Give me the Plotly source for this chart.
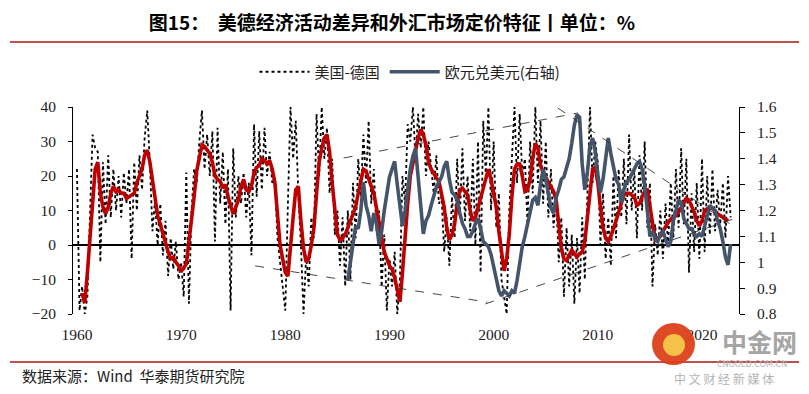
import pandas as pd
import plotly.graph_objects as go

# ---------------- data (quarterly, 1960Q1 .. 2022Q4) ----------------
start_date = "1960-01-01"
n_quarters = 252

us_minus_de = [  # dotted series, left axis
    22, -19, -12, -20,   # 1960
    -15, 10, 32, 28,     # 1961
    27, -5, 24, 6,       # 1962
    26, 8, 22, 10,       # 1963
    20, 8, 21, 12,       # 1964
    22, -4, 24, 10,      # 1965
    26, 16, 31, 39,      # 1966
    24, 4, 13, 0,        # 1967
    12, -3, 7, -9,       # 1968
    2, -7, 1, -10,       # 1969
    -5, -15, 21, -17,    # 1970
    10, 22, 18, 30,      # 1971
    39, 22, 32, 20,      # 1972
    33, 1, 34, 12,       # 1973
    27, 6, 22, -19,      # 1974
    28, 8, 20, 12,       # 1975
    21, 8, 18, -3,       # 1976
    35, 14, 33, 16,      # 1977
    34, 20, 27, 18,      # 1978
    20, 2, -5, -11,      # 1979
    -19, 12, 40, 25,     # 1980
    36, 15, 0, -20,      # 1981
    -3, -12, 8, 2,       # 1982
    38, 20, 40, 25,      # 1983
    34, 15, 25, 3,       # 1984
    10, -6, 8, -12,      # 1985
    10, -10, 18, 2,      # 1986
    25, 14, 32, 18,      # 1987
    36, 12, 22, 4,       # 1988
    10, -12, 3, -19,     # 1989
    -4, -12, -2, -20,    # 1990
    -10, 20, 12, 35,     # 1991
    30, 40, 25, 38,      # 1992
    28, 40, 20, 30,      # 1993
    22, 15, 26, 12,      # 1994
    14, -2, 8, -6,       # 1995
    14, 2, 25, 8,        # 1996
    28, 7, 20, 4,        # 1997
    25, 0, 30, -8,       # 1998
    36, 20, 40, 10,      # 1999
    30, 5, 15, -10,      # 2000
    -15, -20, 10, 25,    # 2001
    40, 18, 38, 20,      # 2002
    25, 6, 30, 15,       # 2003
    40, 18, 36, 12,      # 2004
    30, 8, 22, 5,        # 2005
    14, -5, 8, -15,      # 2006
    5, -12, 3, -17,      # 2007
    2, -14, 8, -10,      # 2008
    15, 40, 18, 30,      # 2009
    24, 0, 15, -4,       # 2010
    8, -6, 20, 2,        # 2011
    22, 8, 25, 6,        # 2012
    32, 10, 22, 2,       # 2013
    26, 10, 30, 5,       # 2014
    18, -12, 6, -3,      # 2015
    10, -4, 12, 0,       # 2016
    18, 2, 22, 5,        # 2017
    28, 6, 25, -8,       # 2018
    15, -2, 18, -4,      # 2019
    25, -2, 20, 3,       # 2020
    22, 4, 16, 6,        # 2021
    18, 2, 20, 8,        # 2022
]

us_minus_de_smooth = [  # red line, left axis
    None, None, -14, -16.8,   # 1960
    -8, 1, 12, 22,            # 1961
    24, 15, 11, 9,            # 1962
    11, 15, 17, 15.5,         # 1963
    16, 15, 15, 13.5,         # 1964
    14, 14.5, 15, 18,         # 1965
    20, 22, 26, 27.5,         # 1966
    24, 19, 14, 8.5,          # 1967
    6, 3, 0.5, -2,            # 1968
    -4, -3.5, -5, -6,         # 1969
    -7.7, -6.5, -5.5, 1,      # 1970
    7, 14, 21.5, 26,          # 1971
    29, 28.5, 27.5, 26.5,     # 1972
    24, 20, 19, 18.5,         # 1973
    16.5, 17.5, 14, 11,       # 1974
    9, 11, 13, 17,            # 1975
    19, 16, 15.5, 17,         # 1976
    21, 22.5, 23, 25,         # 1977
    24.5, 23.5, 24.5, 22,     # 1978
    18, 9, 0, -4,             # 1979
    -8, -9, 1, 8,             # 1980
    16, 17, 7, -1,            # 1981
    -5, -4, 0, 5,             # 1982
    15, 24, 28, 31,           # 1983
    32, 27, 18, 9,            # 1984
    3, 1.5, 2, 3,             # 1985
    5, 7, 9, 11,              # 1986
    15, 19, 22, 21.5,         # 1987
    19, 17, 15, 11,           # 1988
    6, 2, -2, -4,             # 1989
    -6, -7, -9.5, -13,        # 1990
    -16.5, -8, 3, 12,         # 1991
    20, 24, 28, 31,           # 1992
    33.5, 32, 29, 24,         # 1993
    22, 20.5, 19.5, 18.5,     # 1994
    15, 11, 5, 1.5,           # 1995
    3, 6, 12, 16,             # 1996
    16.5, 15.5, 14.5, 10,     # 1997
    7, 8, 11, 13,             # 1998
    16, 20, 22, 19,           # 1999
    15, 11, 4, -2,            # 2000
    -7.5, -4, 3, 14,          # 2001
    22, 23.5, 23.5, 20,       # 2002
    15.5, 16, 19, 25,         # 2003
    29.5, 28, 23, 21,         # 2004
    19.5, 18, 17, 15.5,       # 2005
    13, 6, -1, -4,            # 2006
    -4.5, -3, -1.5, -2.5,     # 2007
    -3.5, -2.5, -2, 1,        # 2008
    8, 15, 22, 22.5,          # 2009
    18, 11, 5, 2,             # 2010
    1, 2.5, 4.5, 7,           # 2011
    9.5, 12.5, 14.5, 15,      # 2012
    15, 14.5, 14, 11.5,       # 2013
    12, 14, 15.5, 16.3,       # 2014
    11, 5, 1.5, 2,            # 2015
    2.5, 4, 5.5, 6.5,         # 2016
    7.5, 8, 8.5, 9.5,         # 2017
    11, 12.5, 13.5, 13,       # 2018
    11.5, 9.5, 7, 5.5,        # 2019
    7, 10, 10.5, 11,          # 2020
    10.5, 10, 9, 8.5,         # 2021
    8, 7.5, 7, None,          # 2022
]

eurusd_start_index = 104  # 1986Q1
eurusd = [  # right axis
    0.93, 1.00, 1.05, 1.14,   # 1986
    1.13, 1.20, 1.31, 1.22,   # 1987
    1.18, 1.12, 1.19, 1.15,   # 1988
    1.07, 1.12, 1.20, 1.26,   # 1989
    1.33, 1.36, 1.39, 1.30,   # 1990
    1.22, 1.14, 1.20, 1.28,   # 1991
    1.36, 1.41, 1.44, 1.33,   # 1992
    1.22, 1.11, 1.16, 1.18,   # 1993
    1.22, 1.26, 1.29, 1.31,   # 1994
    1.33, 1.37, 1.39, 1.32,   # 1995
    1.27, 1.26, 1.24, 1.19,   # 1996
    1.15, 1.13, 1.10, 1.10,   # 1997
    1.12, 1.15, 1.17, 1.13,   # 1998
    1.08, 1.07, 1.06, 1.03,   # 1999
    0.98, 0.93, 0.89, 0.87,   # 2000
    0.89, 0.88, 0.87, 0.89,   # 2001
    0.88, 0.93, 1.00, 1.06,   # 2002
    1.10, 1.15, 1.20, 1.24,   # 2003
    1.25, 1.22, 1.30, 1.36,   # 2004
    1.32, 1.26, 1.21, 1.19,   # 2005
    1.25, 1.28, 1.32, 1.33,   # 2006
    1.36, 1.40, 1.46, 1.53,   # 2007
    1.57, 1.56, 1.38, 1.28,   # 2008
    1.35, 1.45, 1.48, 1.43,   # 2009
    1.34, 1.27, 1.32, 1.40,   # 2010
    1.48, 1.42, 1.36, 1.32,   # 2011
    1.30, 1.23, 1.28, 1.31,   # 2012
    1.32, 1.34, 1.36, 1.38,   # 2013
    1.39, 1.36, 1.30, 1.18,   # 2014
    1.10, 1.12, 1.09, 1.08,   # 2015
    1.11, 1.12, 1.09, 1.06,   # 2016
    1.08, 1.16, 1.20, 1.24,   # 2017
    1.23, 1.17, 1.15, 1.13,   # 2018
    1.13, 1.11, 1.10, 1.11,   # 2019
    1.10, 1.14, 1.19, 1.22,   # 2020
    1.21, 1.20, 1.16, 1.13,   # 2021
    1.08, 1.02, 0.99, 1.07,   # 2022
]

tick_years = [1960, 1970, 1980, 1990, 2000, 2010, 2020]

# dashed trend lines on the right axis: (start year, start value, end year, end value)
trend_lines = [
    (1977.1, 0.986, 1999.4, 0.846),
    (1999.2, 0.839, 2023.3, 1.171),
    (1985.6, 1.403, 2008.1, 1.577),
    (2006.15, 1.596, 2023.3, 1.132),
]

# ---------------- figure ----------------
dates = pd.date_range(start=start_date, periods=n_quarters, freq="QS")
eur_dates = dates[eurusd_start_index:eurusd_start_index + len(eurusd)]


def dec_year(y):
    yr = int(y)
    return pd.Timestamp(year=yr, month=1, day=1) + pd.Timedelta(days=(y - yr) * 365.25)


# page layout (pixels in the 809x394 window); the page body has an 8px margin
OFF = 8
W, H = 809 - 2 * OFF, 394 - 2 * OFF
L, R, T, B = 73, 739, 107, 314


def px(x):
    return (x - L) / (R - L)


def py(y):
    return (B - y) / (B - T)


fig = go.Figure()
fig.add_trace(go.Scatter(
    x=dates, y=us_minus_de, mode="lines", name="美国-德国",
    line=dict(color="black", width=1.8, dash="dot"), yaxis="y"))
fig.add_trace(go.Scatter(
    x=dates, y=us_minus_de_smooth, mode="lines", name="平滑",
    line=dict(color="#C00000", width=3.6), yaxis="y", showlegend=False))
fig.add_trace(go.Scatter(
    x=eur_dates, y=eurusd, mode="lines", name="欧元兑美元(右轴)",
    line=dict(color="#44546A", width=3.6), yaxis="y2"))

shapes = []
for (x0, y0, x1, y1) in trend_lines:
    shapes.append(dict(type="line", xref="x", yref="y2",
                       x0=dec_year(x0), y0=y0, x1=dec_year(x1), y1=y1,
                       line=dict(color="#333333", width=0.9, dash="dash")))
# header / footer rules
shapes.append(dict(type="line", xref="paper", yref="paper", x0=px(10), x1=px(799),
                   y0=py(42), y1=py(42), line=dict(color="#C0504D", width=2)))
shapes.append(dict(type="line", xref="paper", yref="paper", x0=px(10), x1=px(799),
                   y0=py(362), y1=py(362), line=dict(color="#C0504D", width=2)))
# watermark logo circle
shapes.append(dict(type="circle", xref="paper", yref="paper",
                   x0=px(652), x1=px(695), y0=py(323), y1=py(365),
                   fillcolor="#DC3F1A", line=dict(width=0), opacity=0.95))
shapes.append(dict(type="circle", xref="paper", yref="paper",
                   x0=px(663), x1=px(685), y0=py(334), y1=py(356),
                   fillcolor="#F7C84A", line=dict(width=0), opacity=0.95))

annotations = [
    dict(text="数据来源：Wind  华泰期货研究院", xref="paper", yref="paper",
         x=px(20), y=py(375), xanchor="left", yanchor="middle", showarrow=False,
         font=dict(family="Noto Sans CJK SC", size=15, color="#222222")),
    dict(text="<b>中金网</b>", xref="paper", yref="paper", x=px(760), y=py(341),
         xanchor="center", yanchor="middle", showarrow=False,
         font=dict(family="Noto Sans CJK SC", size=25, color="#A5A5A5")),
    dict(text="CNGOLD.COM.CN", xref="paper", yref="paper", x=px(752), y=py(364),
         xanchor="center", yanchor="middle", showarrow=False,
         font=dict(family="DejaVu Sans", size=8, color="#B4B4B4")),
    dict(text="中 文 财 经 新 媒 体", xref="paper", yref="paper", x=px(724), y=py(378),
         xanchor="center", yanchor="middle", showarrow=False,
         font=dict(family="Noto Sans CJK SC", size=12, color="#B4B4B4")),
]

tick_font = dict(family="Liberation Serif", size=15.5, color="#222222")

fig.update_layout(
    width=W, height=H,
    margin=dict(l=L - OFF, r=(809 - OFF) - R, t=T - OFF, b=(394 - OFF) - B),
    paper_bgcolor="white", plot_bgcolor="white",
    title=dict(text="<b>图15：  美德经济活动差异和外汇市场定价特征丨单位：%</b>",
               x=(392 - OFF) / W, xanchor="center", xref="container",
               y=1 - (23 - OFF) / H, yanchor="middle", yref="container",
               font=dict(family="Noto Sans CJK SC", size=19, color="black")),
    legend=dict(orientation="h", x=px(410), xanchor="center", y=py(72), yanchor="middle",
                font=dict(family="Noto Sans CJK SC", size=15, color="#222222"),
                itemwidth=50, bgcolor="rgba(0,0,0,0)"),
    xaxis=dict(range=[dec_year(1959.62), dec_year(2023.55)],
               tickvals=[pd.Timestamp(year=y, month=1, day=1) for y in tick_years],
               ticktext=[str(y) for y in tick_years],
               showgrid=False, showline=False, zeroline=False,
               ticks="outside", ticklen=6, tickcolor="rgba(0,0,0,0)",
               tickfont=tick_font),
    yaxis=dict(range=[-20, 40], dtick=10, showgrid=False,
               showline=True, linecolor="black", linewidth=1,
               ticks="outside", ticklen=4, tickcolor="black", ticklabelstandoff=9,
               zeroline=True, zerolinecolor="black", zerolinewidth=1.5,
               tickfont=tick_font),
    yaxis2=dict(range=[0.8, 1.6], dtick=0.1, overlaying="y", side="right",
                showgrid=False, showline=True, linecolor="black", linewidth=1,
                ticks="outside", ticklen=5, tickcolor="black", ticklabelstandoff=9,
                zeroline=False, tickfont=tick_font),
    shapes=shapes,
    annotations=annotations,
)

fig.write_html("out.html")
